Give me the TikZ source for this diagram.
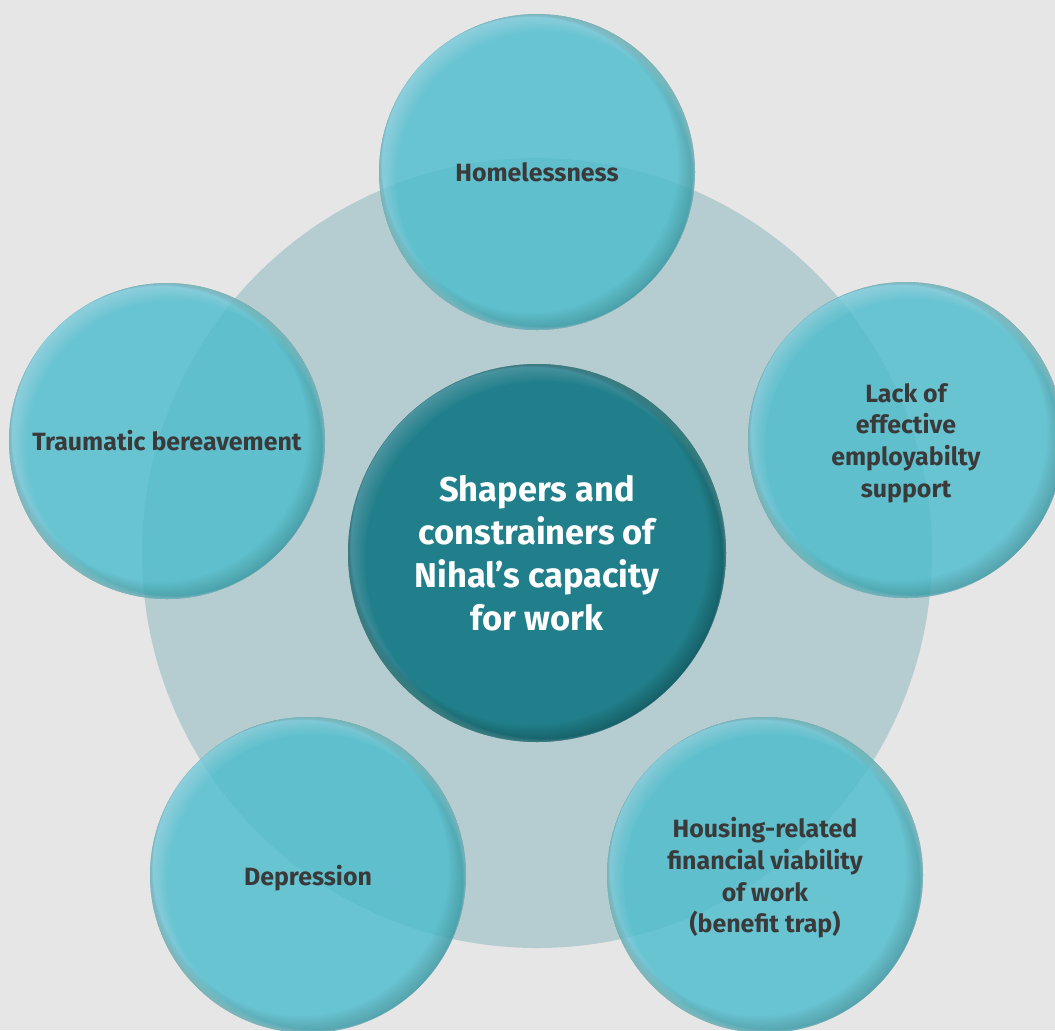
\documentclass[tikz,border=0pt]{standalone}
\usepackage{fontspec}
\setmainfont{Fira Sans}

\definecolor{bggray}{HTML}{E6E6E6}
\definecolor{ringgray}{HTML}{B5CCD0}
\definecolor{ballblue}{HTML}{4ABCCD}
\definecolor{coreteal}{HTML}{217F8B}
\definecolor{labelgray}{HTML}{3A3A3A}

\tikzset{
  ball/.style={circle, minimum size=63.2mm, inner sep=0pt, fill=ballblue,
    fill opacity=0.8, text opacity=1, text=labelgray, align=center,
    font=\fontsize{14.2}{18}\selectfont\bfseries},
  core/.style={circle, minimum size=75.6mm, inner sep=0pt, fill=coreteal,
    text=white, align=center, font=\fontsize{19.6}{24.4}\selectfont\bfseries}
}

\begin{document}
\begin{tikzpicture}[x=0.2mm,y=-0.2mm]
  \useasboundingbox (0,0) rectangle (1055,1030);
  \clip (0,0) rectangle (1055,1030);
  \fill[bggray] (0,0) rectangle (1055,1030);

  % pale disc behind everything
  \fill[ringgray] (537,553) circle (79mm);

  % centre
  \node[core] (core) at (537,553) {};
  \foreach \d in {1,...,10}{
    \fill[white,opacity=0.025,even odd rule] (core.center) circle (37.8mm)
      ([shift={(\d*0.14mm,-\d*0.14mm)}]core.center) circle ({37.8mm-\d*0.2mm});
    \fill[black,opacity=0.025,even odd rule] (core.center) circle (37.8mm)
      ([shift={(-\d*0.14mm,\d*0.14mm)}]core.center) circle ({37.8mm-\d*0.2mm});
  }
  \node[core,fill=none] at (core.center) {Shapers and\\constrainers of\\Nihal’s capacity\\for work};

  % the five factors
  \node[ball] (homeless) at (537,172) {};
  \node[ball] (employ) at (906,440) {};
  \node[ball] (housing) at (765,875) {};
  \node[ball] (depress) at (308,875) {};
  \node[ball] (trauma) at (167,441) {};

  \foreach \b in {homeless,employ,housing,depress,trauma}{
    \foreach \d in {1,...,10}{
      \fill[white,opacity=0.03,even odd rule] (\b.center) circle (31.6mm)
        ([shift={(\d*0.14mm,-\d*0.14mm)}]\b.center) circle ({31.6mm-\d*0.2mm});
      \fill[black,opacity=0.015,even odd rule] (\b.center) circle (31.6mm)
        ([shift={(-\d*0.14mm,\d*0.14mm)}]\b.center) circle ({31.6mm-\d*0.2mm});
    }
  }

  \node[ball,fill=none] at (homeless.center) {Homelessness};
  \node[ball,fill=none,yshift=-0.6mm] at (employ.center) {Lack of\\effective\\employabilty\\support};
  \node[ball,fill=none,yshift=-0.6mm] at (housing.center) {Housing-related\\financial viability\\of work\\(benefit trap)};
  \node[ball,fill=none,yshift=-0.6mm] at (depress.center) {Depression};
  \node[ball,fill=none] at (trauma.center) {Traumatic bereavement};
\end{tikzpicture}
\end{document}
